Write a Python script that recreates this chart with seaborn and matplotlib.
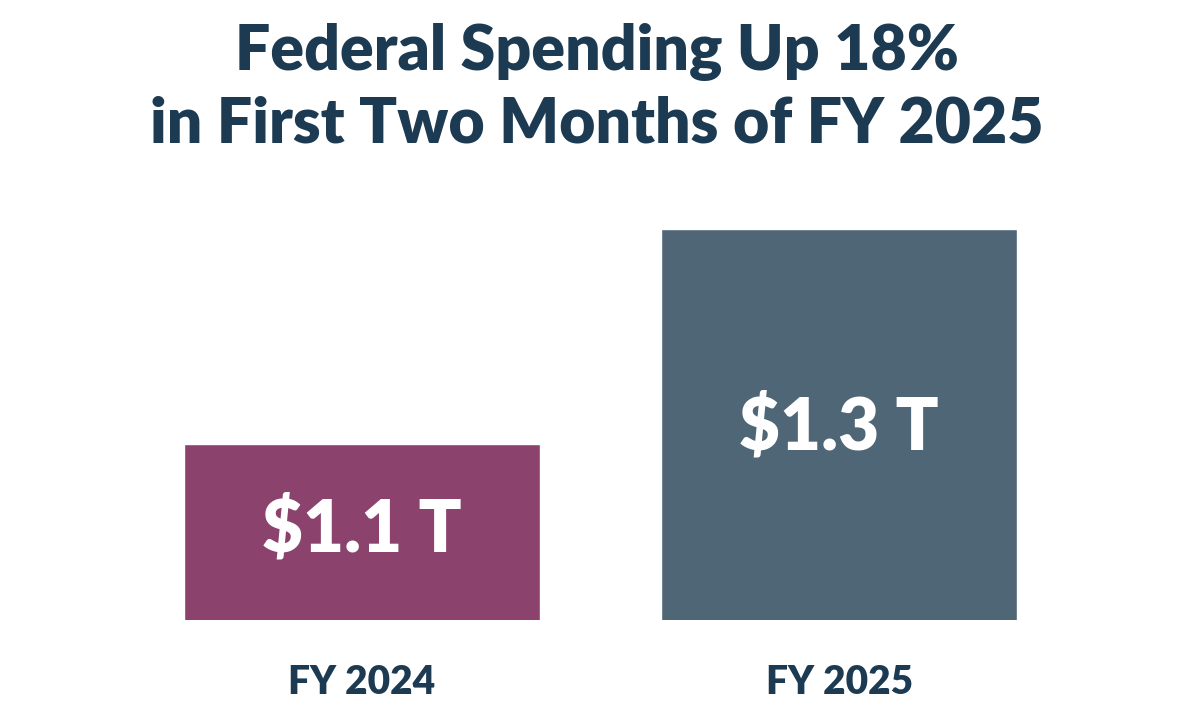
import matplotlib.pyplot as plt
import seaborn as sns
import pandas as pd

years = ['FY 2024', 'FY 2025']
spending = [1.1, 1.3]
value_labels = ['$1.1 T', '$1.3 T']
bar_colors = ['#8B436E', '#4F6677']
title = 'Federal Spending Up 18%\nin First Two Months of FY 2025'

sns.set_style('white')
plt.rcParams['font.family'] = ['Lato', 'DejaVu Sans']

df = pd.DataFrame({'year': years, 'spending': spending})

fig = plt.figure(figsize=(11.94, 7.18), dpi=100)
ax = fig.add_axes([0.154, 0.1365, 0.698, 0.545])
sns.barplot(data=df, x='year', y='spending', hue='year', palette=bar_colors,
            width=0.746, legend=False, ax=ax, saturation=1)

ax.set_xlim(-0.373, 1.373)
ax.set_ylim(0.936, 1.3)
ax.set_yticks([])
ax.set_xlabel('')
ax.set_ylabel('')
sns.despine(ax=ax, left=True, bottom=True)
ax.tick_params(axis='x', length=0, pad=32, labelsize=28, labelcolor='#1C3A52')
for lbl in ax.get_xticklabels():
    lbl.set_fontweight('heavy')

for i, t in enumerate(value_labels):
    y = 1.02 if i == 0 else 1.115
    ax.text(i, y, t, ha='center', va='center', color='white',
            fontsize=51, fontweight='heavy')

fig.text(0.5, 0.878, title, ha='center', va='center', color='#1C3A52',
         fontsize=45, fontweight='heavy', linespacing=1.3)

plt.savefig('out.png', dpi=100)
